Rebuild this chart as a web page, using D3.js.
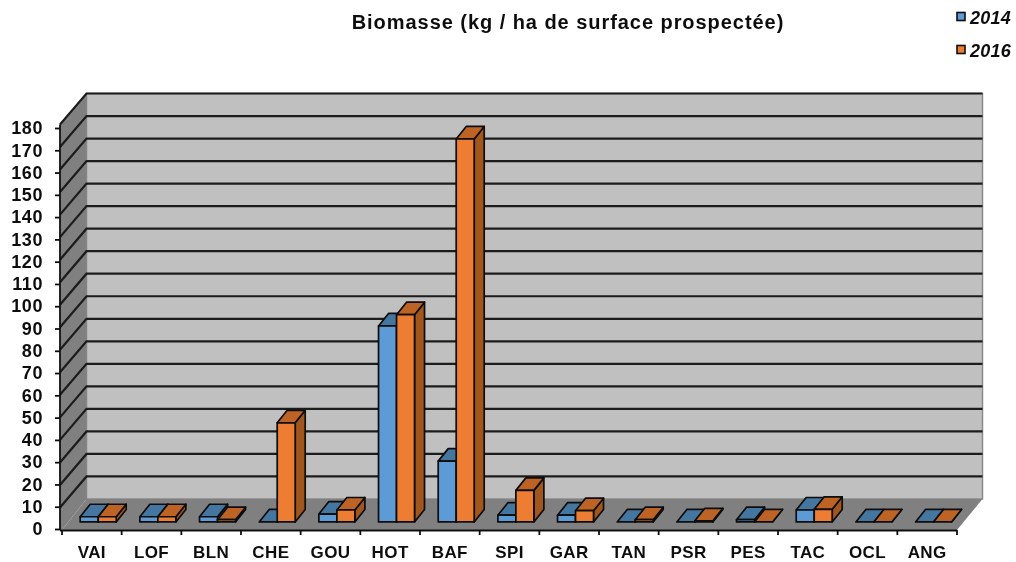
<!DOCTYPE html>
<html><head><meta charset="utf-8">
<script src="https://cdn.jsdelivr.net/npm/d3@7/dist/d3.min.js"></script>
<style>html,body{margin:0;padding:0;background:#fff}svg{display:block}text{font-family:"Liberation Sans",Arial,sans-serif;font-weight:bold;fill:#111}</style>
</head><body><svg id="c" width="1016" height="562"></svg>
<script>
const categories=["VAI","LOF","BLN","CHE","GOU","HOT","BAF","SPI","GAR","TAN","PSR","PES","TAC","OCL","ANG"];
const series2014=[2.3,2.3,2.3,0,3.5,87,27,3,3,0,0,1,5.3,0,0];
const series2016=[2.3,2.3,1,44,5.3,92,170,14,5,1,0.5,0,5.6,0,0];
const yTicks=d3.range(0,181,10);
const seriesNames=["2014","2016"];
const titleText="Biomasse (kg / ha de surface prospectée)";

const svg=d3.select("#c");
const defs=svg.append("defs");
defs.append("filter").attr("id","soft").attr("x","-5%").attr("y","-5%").attr("width","110%").attr("height","110%")
  .append("feGaussianBlur").attr("stdDeviation",0.6);
const root=svg.append("g").attr("filter","url(#soft)");

const frontL=62,frontR=957,floorF=530,depthX=24.5,depthY=31;
const yWall=d3.scaleLinear().domain([0,180]).range([floorF-depthY,93.5]);
const yTick=d3.scaleLinear().domain([0,180]).range([529,128]);
const xBand=d3.scaleBand().domain(categories).range([frontL,frontR]);
const barW=18;
const x1=d3.scaleBand().domain(seriesNames).range([0,barW*2]);
const barZ0=0.26, barDx=10, barDy=12.5;
const barBase=floorF-barZ0*depthY;
const yBar=d3.scaleLinear().domain([0,180]).range([barBase,barBase-(yWall(0)-yWall(180))]);
const P=a=>a.map(p=>p.join(",")).join(" ");

const W=yWall(180),B=yWall(0);
root.append("polygon").attr("points",P([[frontL+depthX,W],[frontR+depthX+1,W],[frontR+depthX+1,B],[frontL+depthX,B]])).attr("fill","#c0c0c0").attr("stroke","#8a8a8a").attr("stroke-width",1.5);
root.append("polygon").attr("points",P([[60,W+depthY],[frontL+depthX,W],[frontL+depthX,B],[frontL,floorF],[60,floorF]])).attr("fill","#808080");
root.append("polygon").attr("points",P([[frontL,floorF],[frontL+depthX,B],[frontR+depthX+1,B],[frontR,floorF]])).attr("fill","#808080");

const gl=root.append("g").attr("fill","none").attr("stroke","#1c1c1c").attr("stroke-width",2.2);
yTicks.forEach(t=>{
  if(t===0) return;
  gl.append("polyline").attr("points",P([[60,yWall(t)+depthY],[frontL+depthX,yWall(t)],[frontR+depthX+1,yWall(t)]]));
});

const colors={"2014":{front:"#5b9bd5",top:"#44769f",side:"#3a6a94"},"2016":{front:"#ed7d31",top:"#bd6425",side:"#a0561f"}};
const values={"2014":series2014,"2016":series2016};
categories.forEach((c,i)=>{
  seriesNames.forEach(s=>{
    const v=values[s][i],col=colors[s];
    const x0=xBand(c)+(xBand.bandwidth()-barW*2)/2+x1(s)+barZ0*depthX;
    const xr=x0+x1.bandwidth(),yt=yBar(v),yb=yBar(0);
    const g=root.append("g").attr("stroke","#0c0c0c").attr("stroke-width",1.7).attr("stroke-linejoin","round");
    g.append("polygon").attr("points",P([[xr,yt],[xr+barDx,yt-barDy],[xr+barDx,yb-barDy],[xr,yb]])).attr("fill",col.side);
    g.append("polygon").attr("points",P([[x0,yt],[x0+barDx,yt-barDy],[xr+barDx,yt-barDy],[xr,yt]])).attr("fill",col.top);
    if(v>0) g.append("rect").attr("x",x0).attr("y",yt).attr("width",barW).attr("height",yb-yt).attr("fill",col.front);
  });
});

const axisG=root.append("g").attr("stroke","#111").attr("stroke-width",1.8);
axisG.append("line").attr("x1",60).attr("x2",60).attr("y1",W+depthY).attr("y2",floorF);
axisG.append("line").attr("x1",60).attr("x2",frontR).attr("y1",floorF+0.5).attr("y2",floorF+0.5);
categories.concat(["end"]).forEach((c,i)=>{
  const x=frontL+i*xBand.step();
  axisG.append("line").attr("x1",x).attr("x2",x).attr("y1",floorF).attr("y2",floorF+5);
});
const ay=root.append("g").attr("transform","translate(60,0)").call(d3.axisLeft(yTick).tickValues(yTicks).tickSize(5).tickPadding(12));
ay.select(".domain").remove();
ay.selectAll("line").attr("stroke","#111").attr("stroke-width",1.8);
ay.selectAll("text").attr("font-family",null).attr("fill","#111").style("font-size","18px").style("letter-spacing","0.6px");
const ax=root.append("g").attr("transform","translate(0,552)").call(d3.axisBottom(xBand).tickSize(0).tickPadding(0));
ax.select(".domain").remove();
ax.selectAll("text").attr("dy","0.36em").attr("y",0).style("font-size","17px").style("letter-spacing","0.4px");

root.append("text").attr("x",568).attr("y",29).attr("text-anchor","middle").style("font-size","20px").style("letter-spacing","0.95px").text(titleText);

seriesNames.forEach((s,i)=>{
  const y=17+i*33;
  root.append("rect").attr("x",957).attr("y",y-4.5).attr("width",8).attr("height",8).attr("fill",colors[s].front).attr("stroke","#111").attr("stroke-width",1.6);
  root.append("text").attr("x",970).attr("y",y+6.5).style("font-size","18px").style("font-style","italic").style("letter-spacing","0.2px").text(s);
});
</script></body></html>
